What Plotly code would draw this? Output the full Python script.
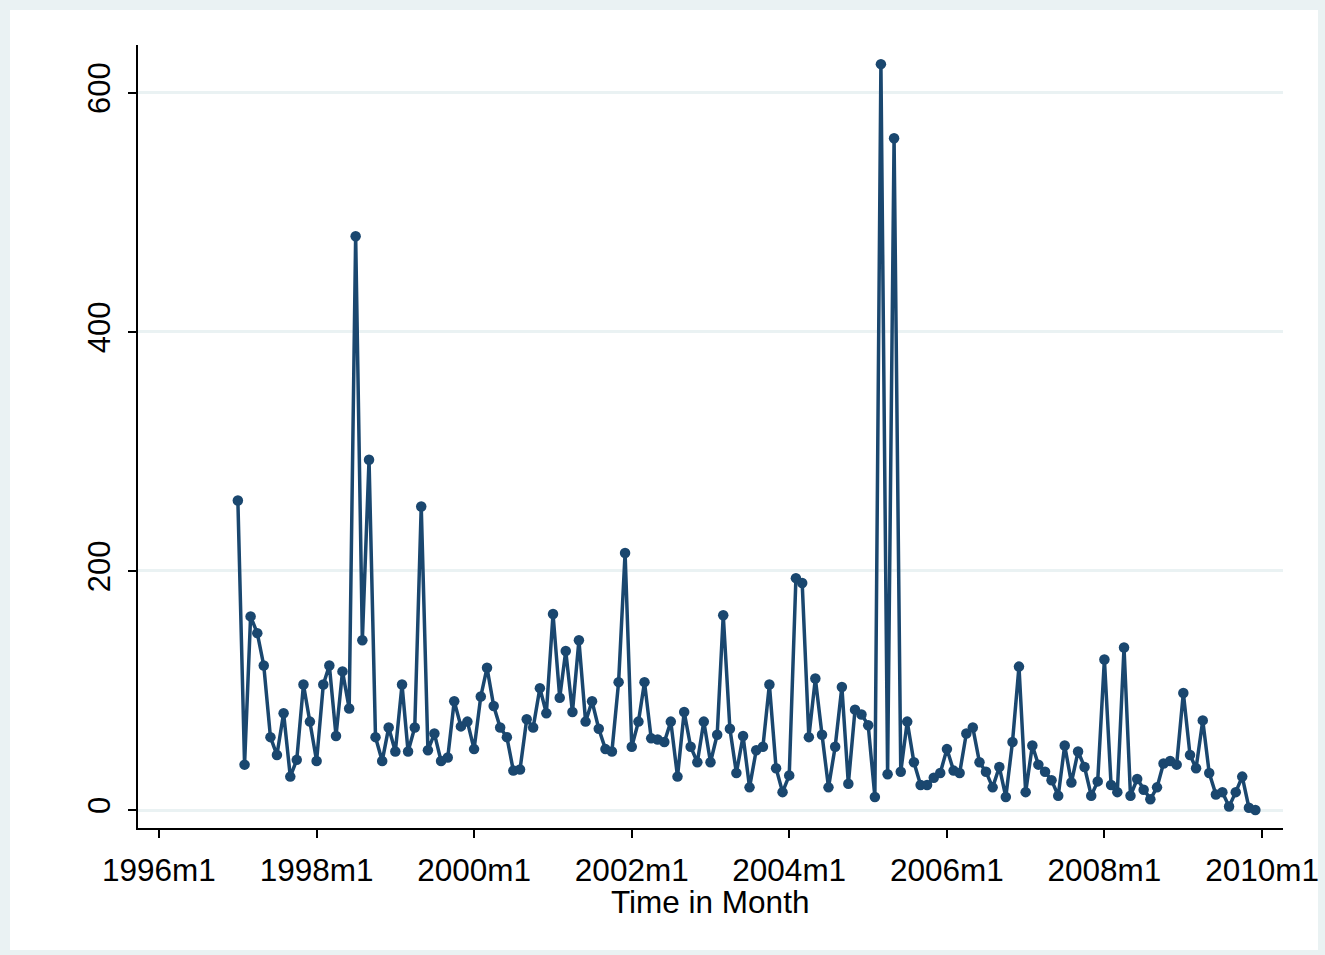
import pandas as pd
import plotly.graph_objects as go

start_month = "1997-01-01"
values = [
    259, 38, 162, 148, 121, 61, 46, 81, 28, 42, 105, 74,
    41, 105, 121, 62, 116, 85, 480, 142, 293, 61, 41, 69,
    49, 105, 49, 69, 254, 50, 64, 41, 44, 91, 70, 74,
    51, 95, 119, 87, 69, 61, 33, 34, 76, 69, 102, 81,
    164, 94, 133, 82, 142, 74, 91, 68, 51, 49, 107, 215,
    53, 74, 107, 60, 59, 57, 74, 28, 82, 53, 40, 74,
    40, 63, 163, 68, 31, 62, 19, 50, 53, 105, 35, 15,
    29, 194, 190, 61, 110, 63, 19, 53, 103, 22, 84, 80,
    71, 11, 624, 30, 562, 32, 74, 40, 21, 21, 27, 31,
    51, 33, 31, 64, 69, 40, 32, 19, 36, 11, 57, 120,
    15, 54, 38, 32, 25, 12, 54, 23, 49, 36, 12, 24,
    126, 21, 15, 136, 12, 26, 17, 9, 19, 39, 41, 38,
    98, 46, 35, 75, 31, 13, 15, 3, 15, 28, 2, 0,
]
dates = pd.date_range(start_month, periods=len(values), freq="MS")

tick_dates = ["1996-01-01", "1998-01-01", "2000-01-01", "2002-01-01",
              "2004-01-01", "2006-01-01", "2008-01-01", "2010-01-01"]
tick_labels = ["1996m1", "1998m1", "2000m1", "2002m1",
               "2004m1", "2006m1", "2008m1", "2010m1"]
y_ticks = [0, 200, 400, 600]
x_title = "Time in Month"

navy = "#1A476F"
bluish = "#EAF2F3"
font = "Liberation Sans, Arial, sans-serif"

fig = go.Figure()
fig.add_trace(go.Scatter(
    x=dates, y=values, mode="lines+markers",
    line=dict(color=navy, width=3.5),
    marker=dict(color=navy, size=10.5),
    showlegend=False, cliponaxis=False,
))

W, H = 1325, 955
L, R, T, B = 138, 42, 45, 127
pw, ph = W - L - R, H - T - B
bottom_px = T + ph
fig.add_shape(type="rect", xref="paper", yref="paper", layer="below",
              x0=(10 - L) / pw, x1=(1318 - L) / pw,
              y0=(bottom_px - 950) / ph, y1=(bottom_px - 10) / ph,
              fillcolor="white", line=dict(width=0))

fig.add_annotation(text=x_title, xref="paper", yref="paper",
                   x=(710 - L) / pw, y=(bottom_px - 902) / ph,
                   xanchor="center", yanchor="middle", showarrow=False,
                   font=dict(size=31.5, color="black"))

fig.update_layout(
    width=W, height=H,
    margin=dict(l=L, r=R, t=T, b=B),
    paper_bgcolor=bluish, plot_bgcolor="white",
    font=dict(family=font, color="black", size=31),
    xaxis=dict(
        type="date", range=["1995-09-26", "2010-04-08"],
        tickvals=tick_dates, ticktext=tick_labels,
        showgrid=False, zeroline=False, automargin=False,
        showline=True, linecolor="black", linewidth=1.5,
        ticks="outside", ticklen=8, tickwidth=1.5, tickcolor="black",
        tickfont=dict(size=31.5), ticklabelstandoff=5,
    ),
    yaxis=dict(
        range=[-15, 640], tickvals=y_ticks, automargin=False,
        showgrid=True, gridcolor=bluish, gridwidth=2.5, zeroline=False,
        showline=True, linecolor="black", linewidth=1.5,
        ticks="outside", ticklen=8, tickwidth=1.5, tickcolor="black",
        tickangle=-90, tickfont=dict(size=31), ticklabelstandoff=6,
    ),
)

fig.write_html("out.html")
